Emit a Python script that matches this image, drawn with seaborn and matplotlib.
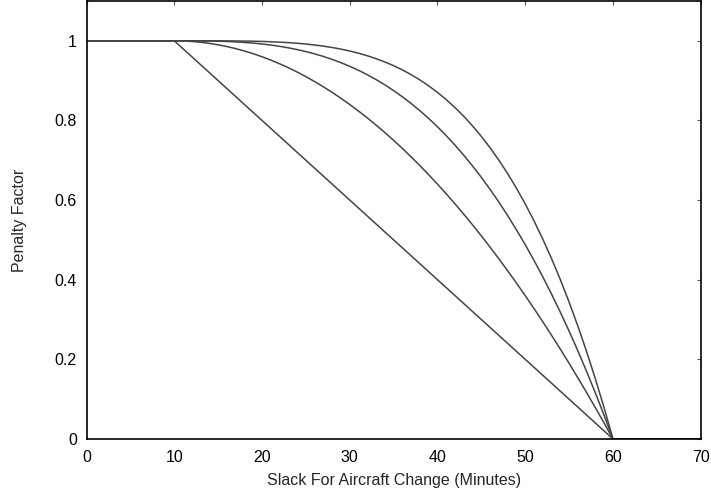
import numpy as np
import pandas as pd
import matplotlib
matplotlib.use("Agg")
import matplotlib.pyplot as plt
import seaborn as sns

# Slack (minutes) at which each penalty curve is sampled
slack_linear = [0, 10, 60, 70]
penalty_linear = [1.0, 1.0, 0.0, 0.0]

slack_curve = [0] + list(range(10, 61)) + [70]

penalty_quadratic = [
    1.0,
    1.0, 0.9996, 0.9984, 0.9964, 0.9936, 0.99, 0.9856, 0.9804, 0.9744, 0.9676,
    0.96, 0.9516, 0.9424, 0.9324, 0.9216, 0.91, 0.8976, 0.8844, 0.8704, 0.8556,
    0.84, 0.8236, 0.8064, 0.7884, 0.7696, 0.75, 0.7296, 0.7084, 0.6864, 0.6636,
    0.64, 0.6156, 0.5904, 0.5644, 0.5376, 0.51, 0.4816, 0.4524, 0.4224, 0.3916,
    0.36, 0.3276, 0.2944, 0.2604, 0.2256, 0.19, 0.1536, 0.1164, 0.0784, 0.0396,
    0.0,
    0.0]

penalty_cubic = [
    1.0,
    1.0, 1.0, 0.9999, 0.9998, 0.9995, 0.999, 0.9983, 0.9973, 0.9959, 0.9942,
    0.992, 0.9894, 0.9862, 0.9824, 0.978, 0.973, 0.9672, 0.9607, 0.9533, 0.9451,
    0.936, 0.9259, 0.9148, 0.9027, 0.8894, 0.875, 0.8594, 0.8425, 0.8244, 0.8049,
    0.784, 0.7617, 0.7379, 0.7125, 0.6856, 0.657, 0.6268, 0.5948, 0.561, 0.5254,
    0.488, 0.4486, 0.4073, 0.3639, 0.3185, 0.271, 0.2213, 0.1694, 0.1153, 0.0588,
    0.0,
    0.0]

penalty_quartic = [
    1.0,
    1.0, 1.0, 1.0, 1.0, 1.0, 0.9999, 0.9998, 0.9996, 0.9993, 0.999,
    0.9984, 0.9977, 0.9967, 0.9954, 0.9939, 0.9919, 0.9895, 0.9866, 0.9832, 0.9791,
    0.9744, 0.9689, 0.9625, 0.9552, 0.9469, 0.9375, 0.9269, 0.915, 0.9017, 0.8868,
    0.8704, 0.8522, 0.8322, 0.8103, 0.7862, 0.7599, 0.7313, 0.7001, 0.6664, 0.6298,
    0.5904, 0.5479, 0.5021, 0.453, 0.4003, 0.3439, 0.2836, 0.2193, 0.1507, 0.0776,
    0.0,
    0.0]

x_ticks = [0, 10, 20, 30, 40, 50, 60, 70]
y_ticks = [0, 0.2, 0.4, 0.6, 0.8, 1]
y_tick_labels = ["0", "0.2", "0.4", "0.6", "0.8", "1"]

frames = [pd.DataFrame({"slack": slack_linear, "penalty": penalty_linear, "shape": "linear"})]
for name, vals in [("quadratic", penalty_quadratic),
                   ("cubic", penalty_cubic),
                   ("quartic", penalty_quartic)]:
    frames.append(pd.DataFrame({"slack": slack_curve, "penalty": vals, "shape": name}))
data = pd.concat(frames, ignore_index=True)

sns.set_theme(style="white")
plt.rcParams["font.family"] = ["Liberation Sans", "DejaVu Sans"]

fig = plt.figure(figsize=(7.11, 4.96), dpi=100)
ax = fig.add_axes([0.1217, 0.115, 0.8638, 0.883])

line_color = "#444444"
sns.lineplot(data=data, x="slack", y="penalty", units="shape", estimator=None,
             color=line_color, linewidth=1.1, sort=False, ax=ax, legend=False)

ax.set_xlim(0, 70)
ax.set_ylim(0, 1.1)
ax.set_xticks(x_ticks)
ax.set_xticklabels([str(t) for t in x_ticks])
ax.set_yticks(y_ticks)
ax.set_yticklabels(y_tick_labels)

ax.tick_params(direction="in", length=3, width=0.8, color="#555555",
               top=True, right=True, labelsize=11.5, labelcolor="black")
ax.tick_params(axis="x", pad=8)
ax.tick_params(axis="y", pad=7)

for sp in ax.spines.values():
    sp.set_color("black")
    sp.set_linewidth(1.2)

ax.set_xlabel("Slack For Aircraft Change (Minutes)", fontsize=11.5, labelpad=6)
ax.set_ylabel("Penalty Factor", fontsize=11.5, labelpad=20)

fig.savefig("out.png", dpi=100, facecolor="white")
